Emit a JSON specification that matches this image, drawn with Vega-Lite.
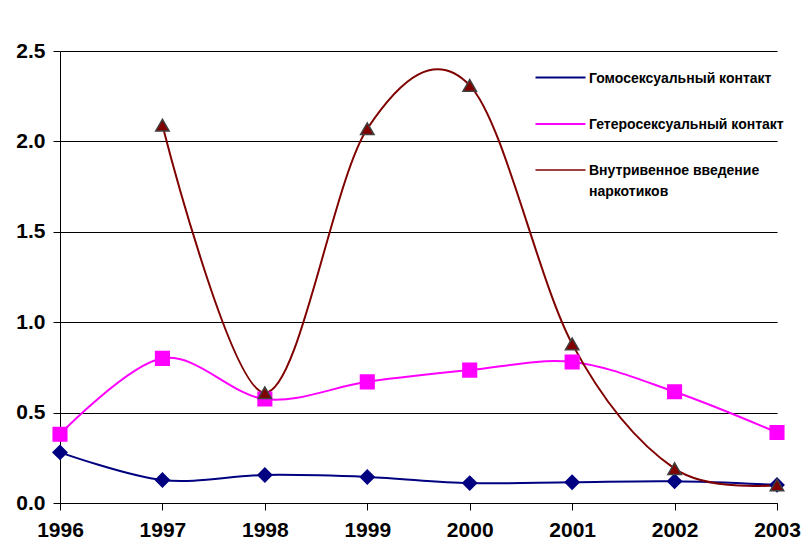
{
  "$schema": "https://vega.github.io/schema/vega-lite/v6.json",
  "width": 717,
  "height": 452,
  "autosize": {"type": "none"},
  "padding": {"left": 60, "top": 51, "right": 35, "bottom": 46},
  "background": "white",
  "config": {
    "view": {"stroke": null},
    "font": "Liberation Sans",
    "axis": {"labelFont": "Liberation Sans", "labelFontWeight": "bold", "labelFontSize": 21, "labelColor": "black", "domainColor": "black", "tickColor": "black", "title": null}
  },
  "data": {
    "values": [
      {"year": 1996, "series": "Гомосексуальный контакт", "value": 0.28},
      {"year": 1997, "series": "Гомосексуальный контакт", "value": 0.127},
      {"year": 1998, "series": "Гомосексуальный контакт", "value": 0.155},
      {"year": 1999, "series": "Гомосексуальный контакт", "value": 0.144},
      {"year": 2000, "series": "Гомосексуальный контакт", "value": 0.11},
      {"year": 2001, "series": "Гомосексуальный контакт", "value": 0.115},
      {"year": 2002, "series": "Гомосексуальный контакт", "value": 0.12},
      {"year": 2003, "series": "Гомосексуальный контакт", "value": 0.10},
      {"year": 1996, "series": "Гетеросексуальный контакт", "value": 0.38},
      {"year": 1997, "series": "Гетеросексуальный контакт", "value": 0.80},
      {"year": 1998, "series": "Гетеросексуальный контакт", "value": 0.575},
      {"year": 1999, "series": "Гетеросексуальный контакт", "value": 0.67},
      {"year": 2000, "series": "Гетеросексуальный контакт", "value": 0.735},
      {"year": 2001, "series": "Гетеросексуальный контакт", "value": 0.78},
      {"year": 2002, "series": "Гетеросексуальный контакт", "value": 0.615},
      {"year": 2003, "series": "Гетеросексуальный контакт", "value": 0.39},
      {"year": 1997, "series": "Внутривенное введение наркотиков", "value": 2.09},
      {"year": 1998, "series": "Внутривенное введение наркотиков", "value": 0.61},
      {"year": 1999, "series": "Внутривенное введение наркотиков", "value": 2.07},
      {"year": 2000, "series": "Внутривенное введение наркотиков", "value": 2.31},
      {"year": 2001, "series": "Внутривенное введение наркотиков", "value": 0.88},
      {"year": 2002, "series": "Внутривенное введение наркотиков", "value": 0.19},
      {"year": 2003, "series": "Внутривенное введение наркотиков", "value": 0.10}
    ]
  },
  "encoding": {
    "x": {
      "field": "year", "type": "quantitative",
      "scale": {"domain": [1996, 2003], "nice": false, "zero": false},
      "axis": {"values": [1996, 1997, 1998, 1999, 2000, 2001, 2002, 2003], "format": "d", "grid": false, "tickSize": 7, "labelPadding": 9, "labelFlush": false, "labelOverlap": false}
    },
    "y": {
      "field": "value", "type": "quantitative",
      "scale": {"domain": [0, 2.5], "nice": false},
      "axis": {"values": [0, 0.5, 1, 1.5, 2, 2.5], "format": ".1f", "grid": true, "gridColor": "black", "gridOpacity": 1, "gridWidth": 1, "tickSize": 7, "labelPadding": 8, "labelFlush": false}
    }
  },
  "layer": [
    {
      "mark": {"type": "line", "interpolate": "cardinal", "tension": 0, "strokeWidth": 2},
      "encoding": {
        "color": {
          "field": "series", "type": "nominal",
          "scale": {"domain": ["Гомосексуальный контакт", "Гетеросексуальный контакт", "Внутривенное введение наркотиков"], "range": ["#000080", "#FF00FF", "#800000"]},
          "legend": {
            "title": null,
            "orient": "none",
            "legendX": 474,
            "legendY": 0,
            "padding": 0,
            "rowPadding": 12,
            "symbolType": "stroke",
            "symbolSize": 2500,
            "symbolStrokeWidth": 2,
            "labelOffset": 2,
            "labelFont": "Liberation Sans",
            "labelFontWeight": "bold",
            "labelFontSize": 14,
            "labelColor": "black",
            "labelLimit": 400,
            "labelBaseline": "alphabetic",
            "labelExpr": "datum.label == 'Внутривенное введение наркотиков' ? ['Внутривенное введение', 'наркотиков'] : datum.label",
            "encode": {"labels": {"update": {"dy": {"value": 5}, "lineHeight": {"value": 21}}}}
          }
        },
        "strokeWidth": {
          "field": "series", "type": "nominal",
          "scale": {"domain": ["Гомосексуальный контакт", "Гетеросексуальный контакт", "Внутривенное введение наркотиков"], "range": [2.2, 1.6, 2]},
          "legend": null
        }
      }
    },
    {
      "transform": [{"calculate": "'m_' + datum.series", "as": "marker"}],
      "mark": {"type": "point", "filled": true, "opacity": 1, "strokeWidth": 1.5},
      "encoding": {
        "shape": {
          "field": "marker", "type": "nominal",
          "scale": {"domain": ["m_Гомосексуальный контакт", "m_Гетеросексуальный контакт", "m_Внутривенное введение наркотиков"], "range": ["diamond", "square", "triangle-up"]},
          "legend": {
            "title": "", "orient": "none", "legendX": 492, "legendY": 18, "padding": 0, "rowPadding": 30,
            "symbolSize": 190, "symbolStrokeWidth": 1.5, "symbolOpacity": 1,
            "labelFont": "Liberation Sans", "labelFontWeight": "bold", "labelFontSize": 14, "labelOpacity": 0, "labelLimit": 400,
            "labelBaseline": "alphabetic",
            "labelExpr": "'X'",
            "encode": {"labels": {"update": {"dy": {"value": 5}}}}
          }
        },
        "size": {
          "field": "marker", "type": "nominal",
          "scale": {"domain": ["m_Гомосексуальный контакт", "m_Гетеросексуальный контакт", "m_Внутривенное введение наркотиков"], "range": [190, 180, 210]},
          "legend": null
        },
        "fill": {
          "field": "marker", "type": "nominal",
          "scale": {"domain": ["m_Гомосексуальный контакт", "m_Гетеросексуальный контакт", "m_Внутривенное введение наркотиков"], "range": ["#000080", "#FF00FF", "#800000"]},
          "legend": {
            "title": "", "orient": "none", "legendX": 492, "legendY": 18, "padding": 0, "rowPadding": 30,
            "symbolSize": 190, "symbolStrokeWidth": 1.5, "symbolOpacity": 1,
            "labelFont": "Liberation Sans", "labelFontWeight": "bold", "labelFontSize": 14, "labelOpacity": 0, "labelLimit": 400,
            "labelBaseline": "alphabetic",
            "labelExpr": "'X'",
            "encode": {"labels": {"update": {"dy": {"value": 5}}}}
          }
        },
        "stroke": {
          "field": "marker", "type": "nominal",
          "scale": {"domain": ["m_Гомосексуальный контакт", "m_Гетеросексуальный контакт", "m_Внутривенное введение наркотиков"], "range": ["#000080", "#FF00FF", "#404040"]},
          "legend": {
            "title": "", "orient": "none", "legendX": 492, "legendY": 18, "padding": 0, "rowPadding": 30,
            "symbolSize": 190, "symbolStrokeWidth": 1.5, "symbolOpacity": 1,
            "labelFont": "Liberation Sans", "labelFontWeight": "bold", "labelFontSize": 14, "labelOpacity": 0, "labelLimit": 400,
            "labelBaseline": "alphabetic",
            "labelExpr": "'X'",
            "encode": {"labels": {"update": {"dy": {"value": 5}}}}
          }
        }
      }
    }
  ]
}
